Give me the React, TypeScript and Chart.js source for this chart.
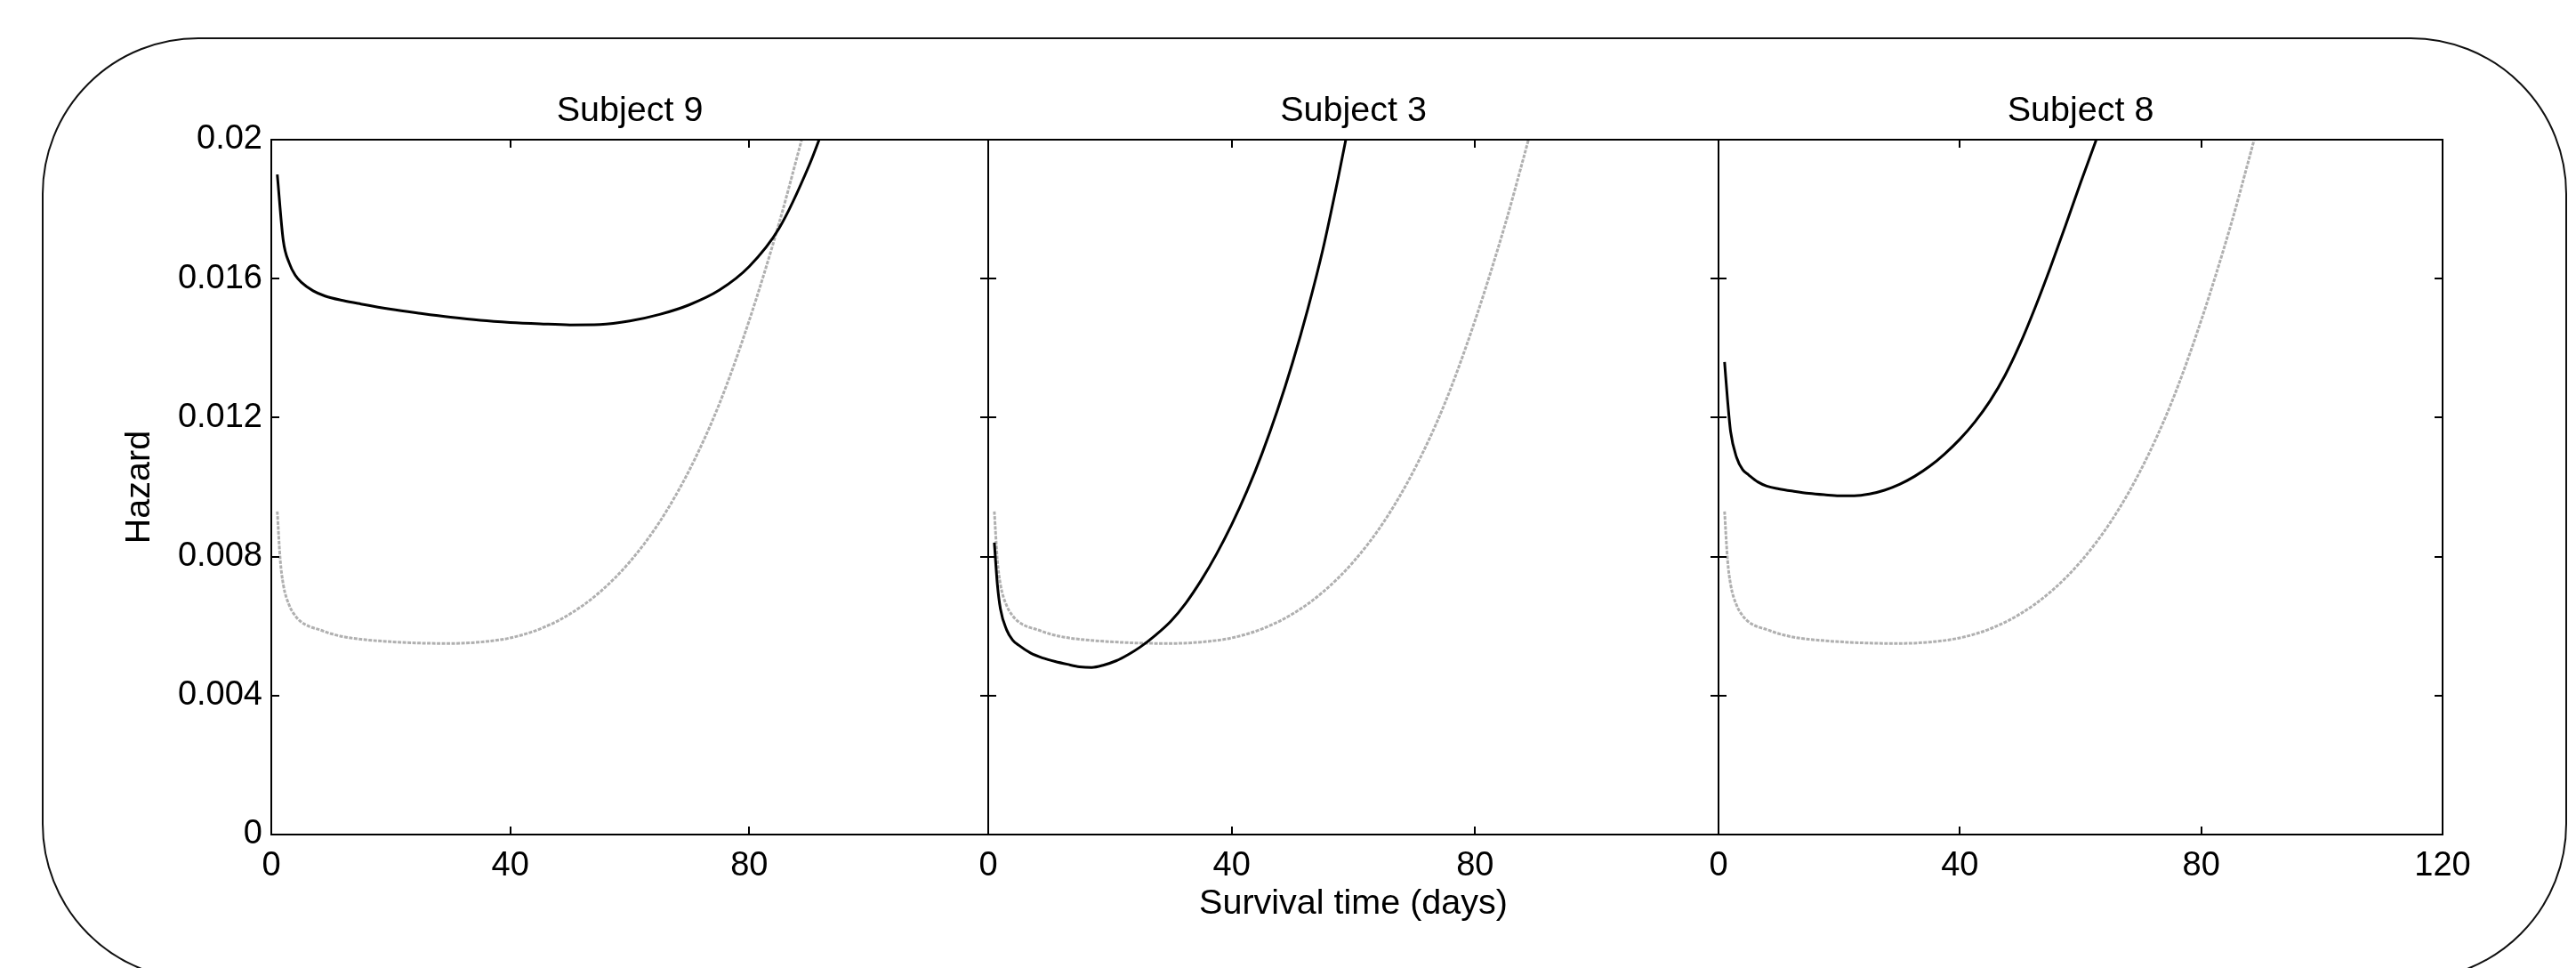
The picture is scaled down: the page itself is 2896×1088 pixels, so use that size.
import React, { useEffect, useRef } from 'react';
import { Chart, registerables } from 'chart.js';

Chart.register(...registerables);

// ---- data ----
const subjectNames = ['Subject 9', 'Subject 3', 'Subject 8'];

const days9 = [1, 2, 3, 4, 5, 7, 9, 12, 15, 20, 25, 30, 35, 40, 45, 50, 55, 60, 65, 70, 75, 80, 85, 90, 93];
const hazard9 = [0.019, 0.0171, 0.01645, 0.0161, 0.0159, 0.01565, 0.0155, 0.01537, 0.01527, 0.01512, 0.015, 0.01489, 0.0148, 0.01474, 0.0147, 0.01467, 0.01468, 0.01478, 0.01497, 0.01525, 0.01567, 0.01635, 0.01745, 0.01925, 0.0206];

const days3 = [1, 1.5, 2, 3, 4, 5, 7, 9, 11, 13, 15, 17, 19, 21, 23, 25, 27.5, 30, 32.5, 35, 37.5, 40, 42.5, 45, 47.5, 50, 52.5, 55, 57.5, 60];
const hazard3 = [0.0084, 0.0072, 0.0065, 0.0059, 0.0056, 0.00545, 0.00522, 0.00508, 0.00498, 0.0049, 0.00483, 0.00481, 0.00488, 0.005, 0.00518, 0.0054, 0.00574, 0.00614, 0.00667, 0.00732, 0.00807, 0.00892, 0.00988, 0.01097, 0.0122, 0.01358, 0.01512, 0.01685, 0.0189, 0.0211];

const days8 = [1, 1.5, 2, 3, 4, 5, 6.5, 8, 10, 12.5, 15, 17.5, 20, 22.5, 25, 27.5, 30, 32.5, 35, 37.5, 40, 42.5, 45, 47.5, 50, 52.5, 55, 57.5, 60, 62.5, 65];
const hazard8 = [0.0136, 0.0125, 0.0116, 0.01085, 0.0105, 0.01035, 0.01015, 0.01003, 0.00995, 0.00988, 0.00982, 0.00978, 0.00975, 0.00975, 0.0098, 0.00991, 0.01008, 0.01031, 0.0106, 0.01096, 0.01138, 0.01188, 0.01248, 0.01322, 0.01413, 0.01518, 0.01632, 0.01752, 0.01876, 0.01995, 0.0212];

// population (grey) hazard, same in every panel
const popDays = [1, 1.5, 2, 3, 4, 5, 6.5, 8, 10, 12.5, 15, 20, 25, 30, 35, 40, 45, 50, 55, 60, 65, 70, 75, 80, 85, 88, 90];
const popHazard = [0.0093, 0.0079, 0.0072, 0.0066, 0.0063, 0.00612, 0.00598, 0.0059, 0.00578, 0.00568, 0.00562, 0.00555, 0.00551, 0.0055, 0.00554, 0.00566, 0.00592, 0.00635, 0.00698, 0.00785, 0.009, 0.0105, 0.0124, 0.0148, 0.0176, 0.0195, 0.0208];

const subjectDays = [days9, days3, days8];
const subjectHazard = [hazard9, hazard3, hazard8];

const xTickValues = [0, 40, 80, 120];
const xTickLabels = ['0', '40', '80', '120'];
const yTickValues = [0, 0.004, 0.008, 0.012, 0.016, 0.02];
const yTickLabels = ['0', '0.004', '0.008', '0.012', '0.016', '0.02'];

const xAxisTitle = 'Survival time (days)';
const yAxisTitle = 'Hazard';

// ---- layout (page pixels) ----
const FONT = '"Liberation Sans", Arial, Helvetica, sans-serif';
const FS = 38;
const FS_TITLE = 39.5;
const CANVAS_H = 1088;
const panels = [
  { chartLeft: 305, chartRight: 1111, axisW: 205, padR: 20 },
  { chartLeft: 1111, chartRight: 1932, axisW: 30, padR: 20 },
  { chartLeft: 1932, chartRight: 2746, axisW: 30, padR: 60 },
];

const framePlugin = {
  id: 'frameTicks',
  afterDatasetsDraw(chart: any) {
    const { ctx, chartArea, scales } = chart;
    const { left, right, top, bottom } = chartArea;
    const L = 9;
    ctx.save();
    ctx.strokeStyle = '#000';
    ctx.lineWidth = 2;
    ctx.strokeRect(left, top, right - left, bottom - top);
    ctx.beginPath();
    xTickValues.forEach((v) => {
      if (v <= 0 || v >= 120) return;
      const px = Math.round(scales.x.getPixelForValue(v));
      ctx.moveTo(px, bottom);
      ctx.lineTo(px, bottom - L);
      ctx.moveTo(px, top);
      ctx.lineTo(px, top + L);
    });
    yTickValues.forEach((v) => {
      if (v <= 0 || v >= 0.02) return;
      const py = Math.round(scales.y.getPixelForValue(v));
      ctx.moveTo(left, py);
      ctx.lineTo(left + L, py);
      ctx.moveTo(right, py);
      ctx.lineTo(right - L, py);
    });
    ctx.stroke();
    ctx.restore();
  },
};

function makeConfig(i: number): any {
  const p = panels[i];
  const font = { family: FONT, size: FS, weight: 'normal' as const };
  const titleFont = { family: FONT, size: FS_TITLE, weight: 'normal' as const };
  return {
    type: 'line',
    data: {
      datasets: [
        {
          label: subjectNames[i],
          data: subjectDays[i].map((d, k) => ({ x: d, y: subjectHazard[i][k] })),
          borderColor: '#000000',
          borderWidth: 3,
          pointRadius: 0,
          fill: false,
          cubicInterpolationMode: 'monotone',
        },
        {
          label: 'Population',
          data: popDays.map((d, k) => ({ x: d, y: popHazard[k] })),
          borderColor: '#b0b0b0',
          borderWidth: 3,
          borderDash: [4, 1.5],
          pointRadius: 0,
          fill: false,
          cubicInterpolationMode: 'monotone',
        },
      ],
    },
    options: {
      animation: false,
      responsive: false,
      devicePixelRatio: 1,
      layout: { padding: { left: 0, right: p.padR, top: 0, bottom: 0 } },
      plugins: {
        legend: { display: false },
        tooltip: { enabled: false },
        title: {
          display: true,
          text: subjectNames[i],
          fullSize: false,
          color: '#000',
          font: titleFont,
          padding: { top: 101, bottom: 8.6 },
        },
      },
      scales: {
        x: {
          type: 'linear',
          min: 0,
          max: 120,
          grid: { display: false, drawTicks: false },
          border: { display: false },
          ticks: {
            stepSize: 40,
            autoSkip: false,
            maxRotation: 0,
            padding: 13,
            color: '#000',
            font,
            callback: (v: number) => {
              const k = xTickValues.indexOf(v);
              if (k < 0) return null;
              if (i < 2 && v === 120) return null;
              return xTickLabels[k];
            },
          },
          title: {
            display: i === 1,
            text: xAxisTitle,
            color: '#000',
            font: titleFont,
            padding: { top: 0, bottom: 48 },
          },
          afterFit: (s: any) => {
            s.height = 150;
          },
        },
        y: {
          type: 'linear',
          min: 0,
          max: 0.02,
          grid: { display: false, drawTicks: false },
          border: { display: false },
          ticks: {
            display: i === 0,
            stepSize: 0.004,
            padding: 10,
            color: '#000',
            font,
            callback: (v: number) => {
              let best = 0;
              yTickValues.forEach((t, k) => {
                if (Math.abs(t - v) < Math.abs(yTickValues[best] - v)) best = k;
              });
              return yTickLabels[best];
            },
          },
          title: {
            display: i === 0,
            text: yAxisTitle,
            color: '#000',
            font: titleFont,
            padding: { top: 33, bottom: 0 },
          },
          afterFit: (s: any) => {
            s.width = p.axisW;
          },
        },
      },
    },
    plugins: [framePlugin],
  };
}

export default function App() {
  const refs = [useRef<HTMLCanvasElement>(null), useRef<HTMLCanvasElement>(null), useRef<HTMLCanvasElement>(null)];

  useEffect(() => {
    const charts: Chart[] = [];
    refs.forEach((r, i) => {
      if (r.current) charts.push(new Chart(r.current, makeConfig(i)));
    });
    return () => charts.forEach((c) => c.destroy());
  }, []);

  return (
    <div
      style={{
        position: 'fixed',
        left: 0,
        top: 0,
        width: 2896,
        height: 1088,
        background: '#ffffff',
        overflow: 'hidden',
      }}
    >
      <div
        style={{
          position: 'absolute',
          left: 47,
          top: 42,
          width: 2839,
          height: 1060,
          boxSizing: 'border-box',
          border: '2px solid #111',
          borderRadius: 176,
        }}
      />
      {panels.map((p, i) => {
        const left = p.chartLeft - p.axisW;
        const w = p.axisW + (p.chartRight - p.chartLeft) + p.padR;
        return (
          <canvas
            key={i}
            ref={refs[i]}
            width={w}
            height={CANVAS_H}
            style={{ position: 'absolute', left, top: 0, width: w, height: CANVAS_H }}
          />
        );
      })}
    </div>
  );
}
